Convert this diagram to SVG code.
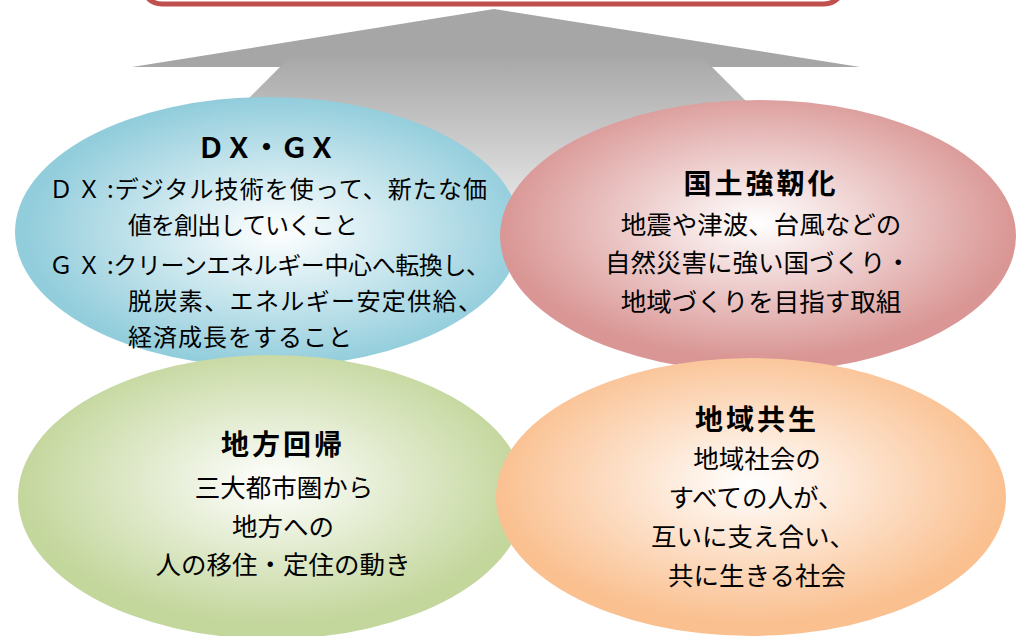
<svg xmlns="http://www.w3.org/2000/svg" width="1027" height="636" viewBox="0 0 1027 636">
<style>
text{font-family:"Noto Sans CJK JP","Noto Sans CJK SC",sans-serif;fill:#000;}
.t{font-weight:bold;font-size:28px;text-anchor:middle;}
.b{font-size:25.5px;text-anchor:middle;}
.s{font-size:24px;}
</style>
<defs>
<linearGradient id="shaft" gradientUnits="userSpaceOnUse" x1="0" y1="57" x2="0" y2="250">
<stop offset="0" stop-color="#a8a8a8"/>
<stop offset="1" stop-color="#f8f8f8"/>
</linearGradient>
<radialGradient id="gBlue" cx="0.52" cy="0.5" r="0.5"><stop offset="0" stop-color="#ffffff"/><stop offset="1" stop-color="#92cddc"/></radialGradient>
<radialGradient id="gPink" cx="0.5" cy="0.45" r="0.5"><stop offset="0" stop-color="#ffffff"/><stop offset="1" stop-color="#d99694"/></radialGradient>
<radialGradient id="gGreen" cx="0.5" cy="0.45" r="0.5"><stop offset="0" stop-color="#ffffff"/><stop offset="1" stop-color="#c3d69b"/></radialGradient>
<radialGradient id="gOrange" cx="0.5" cy="0.45" r="0.5"><stop offset="0" stop-color="#ffffff"/><stop offset="1" stop-color="#fac090"/></radialGradient>
</defs>
<rect width="1027" height="636" fill="#ffffff"/>
<g id="top-box">
<rect x="142" y="-50" width="702" height="54" rx="20" fill="#ffffff" stroke="#c0504d" stroke-width="5"/>
</g>
<g id="arrow">
<polygon points="494,9 860,67 132,67" fill="#a6a6a6"/>
<polygon points="290,57 702,57 895,250 97,250" fill="url(#shaft)"/>
</g>
<g id="connectors"></g>
<g id="node-dxgx">
<ellipse cx="268" cy="232" rx="253" ry="135" fill="url(#gBlue)"/>
<text x="197" y="158" style="font-weight:bold;font-size:28px" textLength="139" lengthAdjust="spacing">ＤＸ・ＧＸ</text>
<text class="s" x="49" y="198" style="letter-spacing:4px">ＤＸ</text>
<text class="s" x="107" y="198" textLength="380" lengthAdjust="spacing">:デジタル技術を使って、新たな価</text>
<text class="s" x="128" y="234" textLength="230" lengthAdjust="spacing">値を創出していくこと</text>
<text class="s" x="49" y="274" style="letter-spacing:4px">ＧＸ</text>
<text class="s" x="107" y="274" textLength="383" lengthAdjust="spacing">:クリーンエネルギー中心へ転換し、</text>
<text class="s" x="128" y="310" textLength="354" lengthAdjust="spacing">脱炭素、エネルギー安定供給、</text>
<text class="s" x="128" y="346" textLength="224" lengthAdjust="spacing">経済成長をすること</text>
</g>
<g id="node-kokudo">
<ellipse cx="758" cy="236" rx="258" ry="136" fill="url(#gPink)"/>
<text class="t" x="761" y="194" style="letter-spacing:3px">国土強靭化</text>
<text class="b" x="761" y="234">地震や津波、台風などの</text>
<text class="b" x="758" y="272">自然災害に強い国づくり・</text>
<text class="b" x="761" y="311">地域づくりを目指す取組</text>
</g>
<g id="node-chiho">
<ellipse cx="272" cy="497" rx="254" ry="142" fill="url(#gGreen)"/>
<text class="t" x="283" y="455" style="letter-spacing:3px">地方回帰</text>
<text class="b" x="284" y="497">三大都市圏から</text>
<text class="b" x="283" y="536">地方への</text>
<text class="b" x="283" y="574">人の移住・定住の動き</text>
</g>
<g id="node-kyosei">
<ellipse cx="751" cy="497" rx="255" ry="139" fill="url(#gOrange)"/>
<text class="t" x="757" y="430" style="letter-spacing:3px">地域共生</text>
<text class="b" x="757" y="468">地域社会の</text>
<text class="b" x="756" y="507">すべての人が、</text>
<text class="b" x="753" y="546">互いに支え合い、</text>
<text class="b" x="757" y="585">共に生きる社会</text>
</g>
</svg>
